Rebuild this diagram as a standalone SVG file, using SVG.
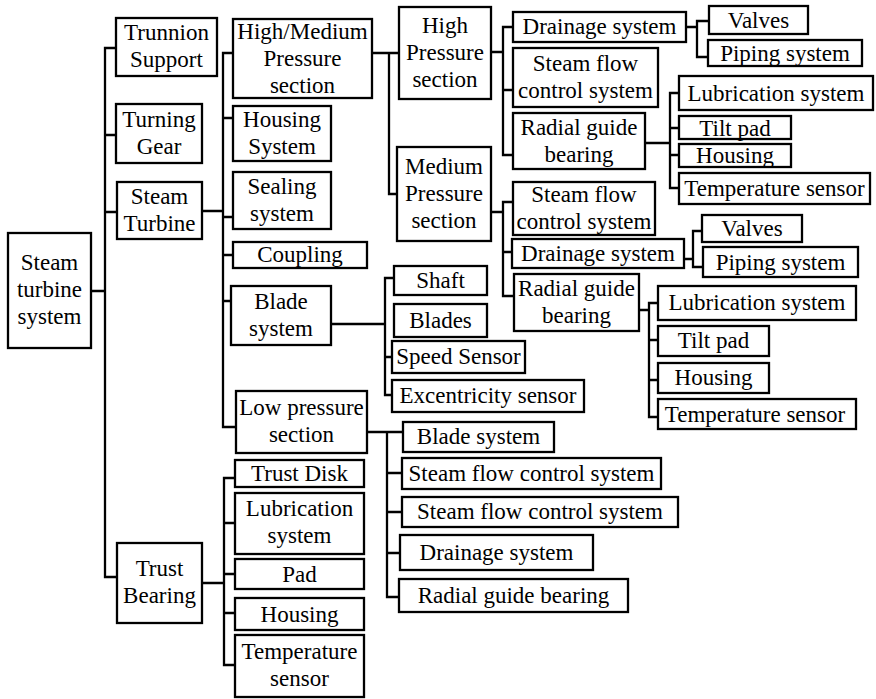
<svg xmlns="http://www.w3.org/2000/svg" width="876" height="699" viewBox="0 0 876 699">
<style>
.b{fill:#fff;stroke:#000;stroke-width:2.3}
.c{fill:none;stroke:#000;stroke-width:2.3}
</style>
<rect width="876" height="699" fill="#fff"/>
<g id="connectors" class="c">
<path d="M91,291 H105 M117,48 H105 V577 H117 M105,135 H116 M105,212 H117"/>
<path d="M202,211 H223 M233,53 H223 V427 H236 M223,118 H233 M223,217 H233 M223,255 H233 M223,301 H231"/>
<path d="M372,53 H399 M389,53 V194 H397"/>
<path d="M491,52 H503 M513,27 H503 V155 H513 M503,90 H513"/>
<path d="M686,27 H697 M709,21 H697 V57 H708"/>
<path d="M645,143 H670 M679,93 H670 V188 H679 M670,128 H679 M670,155 H679"/>
<path d="M491,212 H503 M513,202 H503 V296 H514 M503,252 H512"/>
<path d="M684,259 H693 M702,231 H693 V267 H703"/>
<path d="M639,310 H649 M658,303 H649 V417 H658 M649,340 H658 M649,380 H658"/>
<path d="M331,324 H385 M394,278 H385 V395 H392 M385,357 H392"/>
<path d="M367,432 H403 M387,432 V597 H399 M387,473 H402 M387,512 H402 M387,553 H400"/>
<path d="M202,583 H224 M235,478 H224 V665 H235 M224,523 H235 M224,574 H235 M224,613 H235"/>
</g>
<g id="n_root"><rect class="b" x="8" y="233" width="83" height="115"/><text font-family="Liberation Serif, serif" font-size="23" text-anchor="middle" x="49.5" y="270"><tspan x="49.5">Steam</tspan><tspan x="49.5" dy="27">turbine</tspan><tspan x="49.5" dy="27">system</tspan></text></g>
<g id="n_trunnion"><rect class="b" x="116" y="18" width="101" height="58"/><text font-family="Liberation Serif, serif" font-size="23" text-anchor="middle" x="166.5" y="40"><tspan x="166.5">Trunnion</tspan><tspan x="166.5" dy="27">Support</tspan></text></g>
<g id="n_turning"><rect class="b" x="116" y="104" width="86" height="59"/><text font-family="Liberation Serif, serif" font-size="23" text-anchor="middle" x="159" y="127"><tspan x="159">Turning</tspan><tspan x="159" dy="27">Gear</tspan></text></g>
<g id="n_steamturbine"><rect class="b" x="117" y="182" width="85" height="57"/><text font-family="Liberation Serif, serif" font-size="23" text-anchor="middle" x="159.5" y="204"><tspan x="159.5">Steam</tspan><tspan x="159.5" dy="27">Turbine</tspan></text></g>
<g id="n_trustbearing"><rect class="b" x="117" y="543" width="85" height="80"/><text font-family="Liberation Serif, serif" font-size="23" text-anchor="middle" x="159.5" y="576"><tspan x="159.5">Trust</tspan><tspan x="159.5" dy="27">Bearing</tspan></text></g>
<g id="n_hm"><rect class="b" x="233" y="19" width="139" height="79"/><text font-family="Liberation Serif, serif" font-size="23" text-anchor="middle" x="302.5" y="39"><tspan x="302.5">High/Medium</tspan><tspan x="302.5" dy="27">Pressure</tspan><tspan x="302.5" dy="27">section</tspan></text></g>
<g id="n_housingsys"><rect class="b" x="233" y="106" width="98" height="55"/><text font-family="Liberation Serif, serif" font-size="23" text-anchor="middle" x="282" y="127"><tspan x="282">Housing</tspan><tspan x="282" dy="27">System</tspan></text></g>
<g id="n_sealing"><rect class="b" x="233" y="172" width="98" height="57"/><text font-family="Liberation Serif, serif" font-size="23" text-anchor="middle" x="282" y="194"><tspan x="282">Sealing</tspan><tspan x="282" dy="27">system</tspan></text></g>
<g id="n_coupling"><rect class="b" x="233" y="242" width="134" height="26"/><text font-family="Liberation Serif, serif" font-size="23" text-anchor="middle" x="300" y="262">Coupling</text></g>
<g id="n_bladesys"><rect class="b" x="231" y="286" width="100" height="59"/><text font-family="Liberation Serif, serif" font-size="23" text-anchor="middle" x="281" y="309"><tspan x="281">Blade</tspan><tspan x="281" dy="27">system</tspan></text></g>
<g id="n_lp"><rect class="b" x="236" y="391" width="131" height="62"/><text font-family="Liberation Serif, serif" font-size="23" text-anchor="middle" x="301.5" y="415"><tspan x="301.5">Low pressure</tspan><tspan x="301.5" dy="27">section</tspan></text></g>
<g id="n_trustdisk"><rect class="b" x="235" y="460" width="129" height="27"/><text font-family="Liberation Serif, serif" font-size="23" text-anchor="middle" x="299.5" y="481">Trust Disk</text></g>
<g id="n_tb_lub"><rect class="b" x="235" y="493" width="129" height="61"/><text font-family="Liberation Serif, serif" font-size="23" text-anchor="middle" x="299.5" y="516"><tspan x="299.5">Lubrication</tspan><tspan x="299.5" dy="27">system</tspan></text></g>
<g id="n_tb_pad"><rect class="b" x="235" y="559" width="129" height="30"/><text font-family="Liberation Serif, serif" font-size="23" text-anchor="middle" x="299.5" y="582">Pad</text></g>
<g id="n_tb_housing"><rect class="b" x="235" y="598" width="129" height="32"/><text font-family="Liberation Serif, serif" font-size="23" text-anchor="middle" x="299.5" y="622">Housing</text></g>
<g id="n_tb_temp"><rect class="b" x="235" y="635" width="129" height="62"/><text font-family="Liberation Serif, serif" font-size="23" text-anchor="middle" x="299.5" y="659"><tspan x="299.5">Temperature</tspan><tspan x="299.5" dy="27">sensor</tspan></text></g>
<g id="n_hp"><rect class="b" x="399" y="7" width="92" height="92"/><text font-family="Liberation Serif, serif" font-size="23" text-anchor="middle" x="445" y="33"><tspan x="445">High</tspan><tspan x="445" dy="27">Pressure</tspan><tspan x="445" dy="27">section</tspan></text></g>
<g id="n_mp"><rect class="b" x="397" y="147" width="94" height="94"/><text font-family="Liberation Serif, serif" font-size="23" text-anchor="middle" x="444" y="174"><tspan x="444">Medium</tspan><tspan x="444" dy="27">Pressure</tspan><tspan x="444" dy="27">section</tspan></text></g>
<g id="n_hp_drain"><rect class="b" x="513" y="12" width="173" height="30"/><text font-family="Liberation Serif, serif" font-size="23" text-anchor="middle" x="599.5" y="34">Drainage system</text></g>
<g id="n_hp_steam"><rect class="b" x="513" y="48" width="145" height="59"/><text font-family="Liberation Serif, serif" font-size="23" text-anchor="middle" x="585.5" y="71"><tspan x="585.5">Steam flow</tspan><tspan x="585.5" dy="27">control system</tspan></text></g>
<g id="n_hp_radial"><rect class="b" x="513" y="113" width="132" height="56"/><text font-family="Liberation Serif, serif" font-size="23" text-anchor="middle" x="579" y="135"><tspan x="579">Radial guide</tspan><tspan x="579" dy="27">bearing</tspan></text></g>
<g id="n_hp_valves"><rect class="b" x="709" y="6" width="99" height="28"/><text font-family="Liberation Serif, serif" font-size="23" text-anchor="middle" x="758.5" y="28">Valves</text></g>
<g id="n_hp_piping"><rect class="b" x="708" y="40" width="154" height="26"/><text font-family="Liberation Serif, serif" font-size="23" text-anchor="middle" x="785" y="61">Piping system</text></g>
<g id="n_hp_lub"><rect class="b" x="679" y="76" width="194" height="34"/><text font-family="Liberation Serif, serif" font-size="23" text-anchor="middle" x="776" y="101">Lubrication system</text></g>
<g id="n_hp_tilt"><rect class="b" x="679" y="116" width="112" height="23"/><text font-family="Liberation Serif, serif" font-size="23" text-anchor="middle" x="735" y="136">Tilt pad</text></g>
<g id="n_hp_housing"><rect class="b" x="679" y="144" width="112" height="23"/><text font-family="Liberation Serif, serif" font-size="23" text-anchor="middle" x="735" y="163">Housing</text></g>
<g id="n_hp_temp"><rect class="b" x="679" y="173" width="191" height="31"/><text font-family="Liberation Serif, serif" font-size="23" text-anchor="middle" x="774.5" y="196">Temperature sensor</text></g>
<g id="n_mp_steam"><rect class="b" x="513" y="182" width="142" height="53"/><text font-family="Liberation Serif, serif" font-size="23" text-anchor="middle" x="584" y="202"><tspan x="584">Steam flow</tspan><tspan x="584" dy="27">control system</tspan></text></g>
<g id="n_mp_drain"><rect class="b" x="512" y="239" width="172" height="29"/><text font-family="Liberation Serif, serif" font-size="23" text-anchor="middle" x="598" y="261">Drainage system</text></g>
<g id="n_mp_radial"><rect class="b" x="514" y="274" width="125" height="57"/><text font-family="Liberation Serif, serif" font-size="23" text-anchor="middle" x="576.5" y="296"><tspan x="576.5">Radial guide</tspan><tspan x="576.5" dy="27">bearing</tspan></text></g>
<g id="n_mp_valves"><rect class="b" x="702" y="215" width="100" height="27"/><text font-family="Liberation Serif, serif" font-size="23" text-anchor="middle" x="752" y="236">Valves</text></g>
<g id="n_mp_piping"><rect class="b" x="703" y="247" width="155" height="30"/><text font-family="Liberation Serif, serif" font-size="23" text-anchor="middle" x="780.5" y="270">Piping system</text></g>
<g id="n_mp_lub"><rect class="b" x="658" y="286" width="198" height="34"/><text font-family="Liberation Serif, serif" font-size="23" text-anchor="middle" x="757" y="310">Lubrication system</text></g>
<g id="n_mp_tilt"><rect class="b" x="658" y="326" width="111" height="30"/><text font-family="Liberation Serif, serif" font-size="23" text-anchor="middle" x="713.5" y="348">Tilt pad</text></g>
<g id="n_mp_housing"><rect class="b" x="658" y="363" width="111" height="30"/><text font-family="Liberation Serif, serif" font-size="23" text-anchor="middle" x="713.5" y="385">Housing</text></g>
<g id="n_mp_temp"><rect class="b" x="658" y="399" width="198" height="30"/><text font-family="Liberation Serif, serif" font-size="23" text-anchor="middle" x="755" y="422">Temperature sensor</text></g>
<g id="n_shaft"><rect class="b" x="394" y="266" width="93" height="29"/><text font-family="Liberation Serif, serif" font-size="23" text-anchor="middle" x="440.5" y="288">Shaft</text></g>
<g id="n_blades"><rect class="b" x="394" y="304" width="93" height="33"/><text font-family="Liberation Serif, serif" font-size="23" text-anchor="middle" x="440.5" y="328">Blades</text></g>
<g id="n_speed"><rect class="b" x="392" y="341" width="133" height="32"/><text font-family="Liberation Serif, serif" font-size="23" text-anchor="middle" x="458.5" y="364">Speed Sensor</text></g>
<g id="n_excent"><rect class="b" x="392" y="380" width="192" height="32"/><text font-family="Liberation Serif, serif" font-size="23" text-anchor="middle" x="488" y="403">Excentricity sensor</text></g>
<g id="n_lp_blade"><rect class="b" x="403" y="422" width="151" height="30"/><text font-family="Liberation Serif, serif" font-size="23" text-anchor="middle" x="478.5" y="444">Blade system</text></g>
<g id="n_lp_steam1"><rect class="b" x="402" y="458" width="259" height="31"/><text font-family="Liberation Serif, serif" font-size="23" text-anchor="middle" x="531.5" y="481">Steam flow control system</text></g>
<g id="n_lp_steam2"><rect class="b" x="402" y="497" width="276" height="30"/><text font-family="Liberation Serif, serif" font-size="23" text-anchor="middle" x="540" y="519">Steam flow control system</text></g>
<g id="n_lp_drain"><rect class="b" x="400" y="535" width="193" height="35"/><text font-family="Liberation Serif, serif" font-size="23" text-anchor="middle" x="496.5" y="560">Drainage system</text></g>
<g id="n_lp_radial"><rect class="b" x="399" y="579" width="229" height="33"/><text font-family="Liberation Serif, serif" font-size="23" text-anchor="middle" x="513.5" y="603">Radial guide bearing</text></g>
</svg>
